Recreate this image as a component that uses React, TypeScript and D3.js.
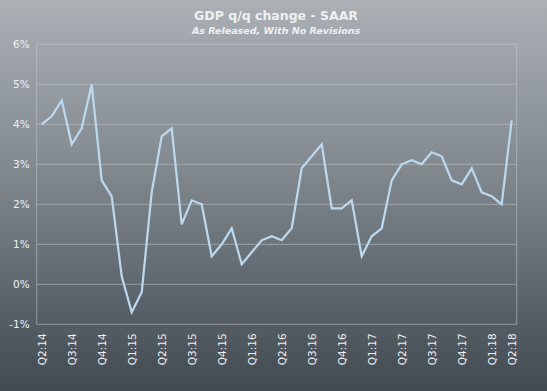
import React, { useEffect, useRef } from 'react';
import * as d3 from 'd3';

// GDP q/q SAAR, each release as printed (advance / second / third estimate)
const gdpValues = [
  4.0, 4.2, 4.6, 3.5, 3.9, 5.0, 2.6, 2.2, 0.2, -0.7, -0.2, 2.3,
  3.7, 3.9, 1.5, 2.1, 2.0, 0.7, 1.0, 1.4, 0.5, 0.8, 1.1, 1.2,
  1.1, 1.4, 2.9, 3.2, 3.5, 1.9, 1.9, 2.1, 0.7, 1.2, 1.4, 2.6,
  3.0, 3.1, 3.0, 3.3, 3.2, 2.6, 2.5, 2.9, 2.3, 2.2, 2.0, 4.1,
];

const tickLabels = [
  'Q2:14', 'Q3:14', 'Q4:14', 'Q1:15', 'Q2:15', 'Q3:15', 'Q4:15', 'Q1:16', 'Q2:16',
  'Q3:16', 'Q4:16', 'Q1:17', 'Q2:17', 'Q3:17', 'Q4:17', 'Q1:18', 'Q2:18',
];
const tickIndex = [0, 3, 6, 9, 12, 15, 18, 21, 24, 27, 30, 33, 36, 39, 42, 45, 47];

const yTicks = [-1, 0, 1, 2, 3, 4, 5, 6];

const App = () => {
  const svgRef = useRef(null);

  useEffect(() => {
    document.body.style.margin = '0';
    const width = 547;
    const height = 391;
    const margin = { top: 44.3, right: 30.3, bottom: 66.7, left: 36.7 };

    const svg = d3.select(svgRef.current);
    svg.selectAll('*').remove();
    svg.attr('width', width).attr('height', height);

    const defs = svg.append('defs');
    const grad = defs.append('linearGradient').attr('id', 'bg').attr('x1', 0).attr('y1', 0).attr('x2', 0).attr('y2', 1);
    grad.append('stop').attr('offset', '0%').attr('stop-color', '#abb0b5');
    grad.append('stop').attr('offset', '45%').attr('stop-color', '#7f878d');
    grad.append('stop').attr('offset', '100%').attr('stop-color', '#414a51');

    svg.append('rect').attr('width', width).attr('height', height).attr('fill', 'url(#bg)');

    const x = d3
      .scaleBand()
      .domain(gdpValues.map((_, i) => String(i)))
      .range([margin.left, width - margin.right]);

    const y = d3.scaleLinear().domain([-1, 6]).range([height - margin.bottom, margin.top]);

    // gridlines
    svg
      .append('g')
      .selectAll('line')
      .data(yTicks)
      .enter()
      .append('line')
      .attr('x1', margin.left)
      .attr('x2', width - margin.right)
      .attr('y1', (d) => y(d))
      .attr('y2', (d) => y(d))
      .attr('stroke', '#c4c8cc')
      .attr('stroke-opacity', 0.55)
      .attr('stroke-width', 1);

    // plot border sides
    [margin.left, width - margin.right].forEach((xx) => {
      svg
        .append('line')
        .attr('x1', xx)
        .attr('x2', xx)
        .attr('y1', y(6))
        .attr('y2', y(-1))
        .attr('stroke', '#c4c8cc')
        .attr('stroke-opacity', 0.55);
    });

    // y labels
    svg
      .append('g')
      .selectAll('text')
      .data(yTicks)
      .enter()
      .append('text')
      .attr('x', margin.left - 7)
      .attr('y', (d) => y(d) + 4)
      .attr('text-anchor', 'end')
      .attr('fill', '#eef0f2')
      .style('font-family', 'DejaVu Sans, sans-serif')
      .style('font-size', '10.5px')
      .text((d) => `${d}%`);

    // x labels
    svg
      .append('g')
      .selectAll('text')
      .data(tickIndex)
      .enter()
      .append('text')
      .attr('transform', (d) => {
        const cx = x(String(d)) + x.bandwidth() / 2 + 4;
        return `translate(${cx},${y(-1) + 9}) rotate(-90)`;
      })
      .attr('text-anchor', 'end')
      .attr('fill', '#eef0f2')
      .style('font-family', 'DejaVu Sans, sans-serif')
      .style('font-size', '10.5px')
      .text((d, i) => tickLabels[i]);

    const line = d3
      .line()
      .x((d, i) => x(String(i)) + x.bandwidth() / 2)
      .y((d) => y(d));

    svg
      .append('path')
      .datum(gdpValues)
      .attr('fill', 'none')
      .attr('stroke', '#bcd9f0')
      .attr('stroke-width', 2.2)
      .attr('stroke-linejoin', 'miter')
      .attr('d', line);

    svg
      .append('text')
      .attr('x', 276)
      .attr('y', 20)
      .attr('text-anchor', 'middle')
      .attr('fill', '#eef0f2')
      .style('font-family', 'DejaVu Sans, sans-serif')
      .style('font-weight', 'bold')
      .style('font-size', '12.5px')
      .text('GDP q/q change - SAAR');

    svg
      .append('text')
      .attr('x', 276)
      .attr('y', 34)
      .attr('text-anchor', 'middle')
      .attr('fill', '#eef0f2')
      .style('font-family', 'DejaVu Sans, sans-serif')
      .style('font-weight', 'bold')
      .style('font-style', 'italic')
      .style('font-size', '9.5px')
      .text('As Released, With No Revisions');
  }, []);

  return <svg ref={svgRef} style={{ display: 'block' }}></svg>;
};

export default App;
